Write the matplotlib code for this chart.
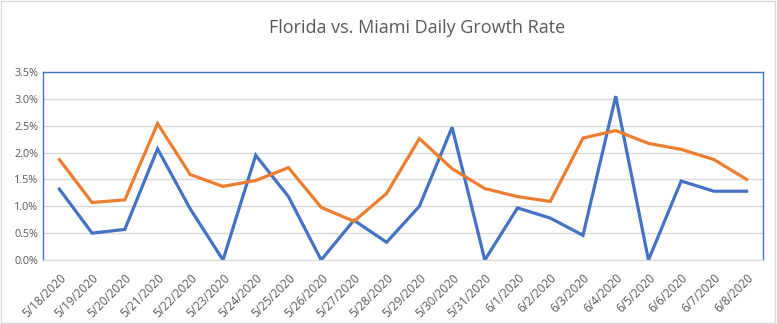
import numpy as np
import matplotlib.pyplot as plt
from matplotlib.ticker import PercentFormatter

dates = ["5/18/2020", "5/19/2020", "5/20/2020", "5/21/2020", "5/22/2020", "5/23/2020",
         "5/24/2020", "5/25/2020", "5/26/2020", "5/27/2020", "5/28/2020", "5/29/2020",
         "5/30/2020", "5/31/2020", "6/1/2020", "6/2/2020", "6/3/2020", "6/4/2020",
         "6/5/2020", "6/6/2020", "6/7/2020", "6/8/2020"]

# daily growth rate in %
miami = [1.32, 0.50, 0.57, 2.07, 0.95, 0.0, 1.95, 1.18, 0.0, 0.74, 0.33, 1.00,
         2.47, 0.0, 0.97, 0.78, 0.46, 3.05, 0.0, 1.47, 1.28, 1.28]
florida = [1.87, 1.07, 1.12, 2.54, 1.59, 1.37, 1.48, 1.72, 0.98, 0.72, 1.24, 2.26,
           1.70, 1.33, 1.18, 1.09, 2.27, 2.41, 2.17, 2.06, 1.87, 1.50]

plt.rcParams['font.family'] = ['Open Sans', 'DejaVu Sans']

fig = plt.figure(figsize=(7.77, 3.24), dpi=100)
ax = fig.add_axes([43 / 777, 1 - 260 / 324, 720 / 777, 188 / 324])

x = np.arange(len(dates))
ax.plot(x, miami, color="#4472C4", lw=2.3, solid_joinstyle="miter")
ax.plot(x, florida, color="#ED7D31", lw=2.3, solid_joinstyle="miter")

ax.set_xlim(-0.5, len(dates) - 0.5)
ax.set_ylim(0, 3.5)
ax.set_yticks(np.arange(0, 3.51, 0.5))
ax.yaxis.set_major_formatter(PercentFormatter(decimals=1))
ax.set_xticks(x)
ax.set_xticklabels(dates, rotation=45, ha="right", rotation_mode="anchor")
ax.tick_params(axis="both", length=0, labelsize=7.8, colors="#595959")
ax.tick_params(axis="x", pad=8, labelsize=8.5)
ax.grid(axis="y", color="#D9D9D9", lw=1)
ax.set_axisbelow(True)

for s in ["left", "top", "right"]:
    ax.spines[s].set_color("#4472C4")
    ax.spines[s].set_linewidth(1)
ax.spines["bottom"].set_color("#D9D9D9")

fig.text(0.537, 1 - 28 / 324, "Florida vs. Miami Daily Growth Rate", ha="center", va="center",
         fontsize=13, color="#595959")

fig.patches.append(plt.Rectangle((0.001, 0.002), 0.997, 0.995, transform=fig.transFigure,
                                 fill=False, edgecolor="#D9D9D9", lw=1))

fig.savefig("out.png", dpi=100)
